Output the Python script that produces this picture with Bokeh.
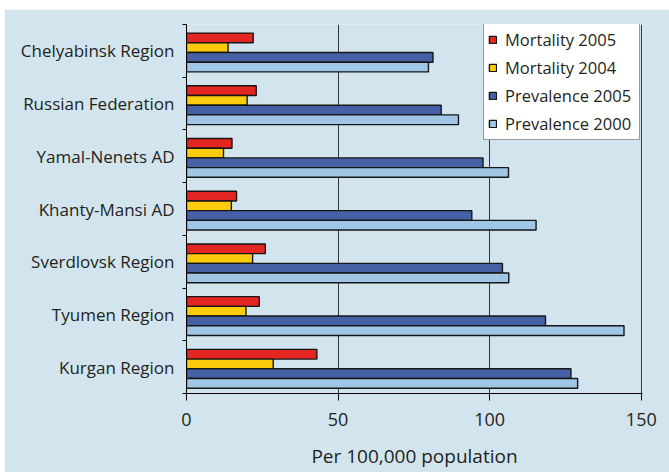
from bokeh.plotting import figure
from bokeh.models import Range1d, FixedTicker, Legend, LegendItem, ColumnDataSource
from bokeh.embed import file_html
from bokeh.resources import INLINE

# Regions, listed top to bottom
regions = [
    "Chelyabinsk Region",
    "Russian Federation",
    "Yamal-Nenets AD",
    "Khanty-Mansi AD",
    "Sverdlovsk Region",
    "Tyumen Region",
    "Kurgan Region",
]

# Rates per 100,000 population
mortality_2005 = [22.0, 23.0, 15.0, 16.5, 26.0, 24.0, 43.0]
mortality_2004 = [13.7, 20.0, 12.2, 14.8, 21.8, 19.6, 28.6]
prevalence_2005 = [81.3, 84.0, 97.8, 94.1, 104.2, 118.4, 126.8]
prevalence_2000 = [79.8, 89.7, 106.2, 115.3, 106.3, 144.3, 129.0]

x_ticks = [0, 50, 100, 150]

series = [
    ("Mortality 2005", mortality_2005, "#e42622"),
    ("Mortality 2004", mortality_2004, "#fccc0c"),
    ("Prevalence 2005", prevalence_2005, "#4660a6"),
    ("Prevalence 2000", prevalence_2000, "#a0c6e6"),
]

TEXT = "#231f20"
BG = "#d2e5ee"
FONT = "Open Sans"

n = len(regions)
centers = [n - 0.5 - i for i in range(n)]
bar_h = 0.184
offsets = [0.245, 0.061, -0.123, -0.307]

p = figure(
    width=665, height=463,
    x_range=Range1d(0, 150.4), y_range=Range1d(0, n),
    output_backend="svg", toolbar_location=None,
    min_border_left=182, min_border_right=27,
    min_border_top=15, min_border_bottom=79,
)
p.margin = (9, 0, 0, 4)
p.background_fill_color = BG
p.border_fill_color = BG
p.outline_line_color = None

items = []
for (name, vals, color), off in zip(series, offsets):
    src = ColumnDataSource(dict(y=[c + off for c in centers], right=vals))
    r = p.hbar(y="y", left=0, right="right", height=bar_h, source=src,
               fill_color=color, line_color="#161616", line_width=1.4)
    items.append(LegendItem(label=name, renderers=[r]))

# x axis
xa = p.xaxis[0]
xa.ticker = FixedTicker(ticks=x_ticks)
xa.axis_line_color = "black"
xa.major_tick_line_color = "black"
xa.major_tick_out = 7
xa.major_tick_in = 0
xa.minor_tick_line_color = None
xa.major_label_text_font = FONT
xa.major_label_text_font_size = "18px"
xa.major_label_text_color = TEXT
xa.major_label_standoff = 12
xa.axis_label = "Per 100,000 population"
xa.axis_label_text_font = FONT
xa.axis_label_text_font_size = "19px"
xa.axis_label_text_font_style = "normal"
xa.axis_label_text_color = TEXT
xa.axis_label_standoff = 14

# y axis: labels at category centres, ticks at category boundaries
ya = p.yaxis[0]
ya.ticker = FixedTicker(ticks=centers, minor_ticks=list(range(n + 1)))
ya.major_label_overrides = {c: lab for c, lab in zip(centers, regions)}
ya.axis_line_color = "black"
ya.major_tick_line_color = None
ya.major_tick_out = 0
ya.major_tick_in = 0
ya.minor_tick_line_color = "black"
ya.minor_tick_out = 4
ya.minor_tick_in = 0
ya.major_label_text_font = FONT
ya.major_label_text_font_size = "17px"
ya.major_label_text_color = TEXT
ya.major_label_standoff = 8

p.xgrid.ticker = FixedTicker(ticks=x_ticks[1:])
p.xgrid.grid_line_color = "#333333"
p.xgrid.grid_line_width = 1
p.ygrid.grid_line_color = None

legend = Legend(
    items=items, location=(297, 253),
    background_fill_color="white", background_fill_alpha=1.0,
    border_line_color="#333333", border_line_width=1,
    label_text_font=FONT, label_text_font_size="16.5px", label_text_color=TEXT,
    glyph_width=9, glyph_height=9, label_height=19, label_width=130, spacing=5,
    padding=4, margin=0, label_standoff=8,
)
p.add_layout(legend, "center")

open("out.html", "w").write(file_html(p, INLINE))
